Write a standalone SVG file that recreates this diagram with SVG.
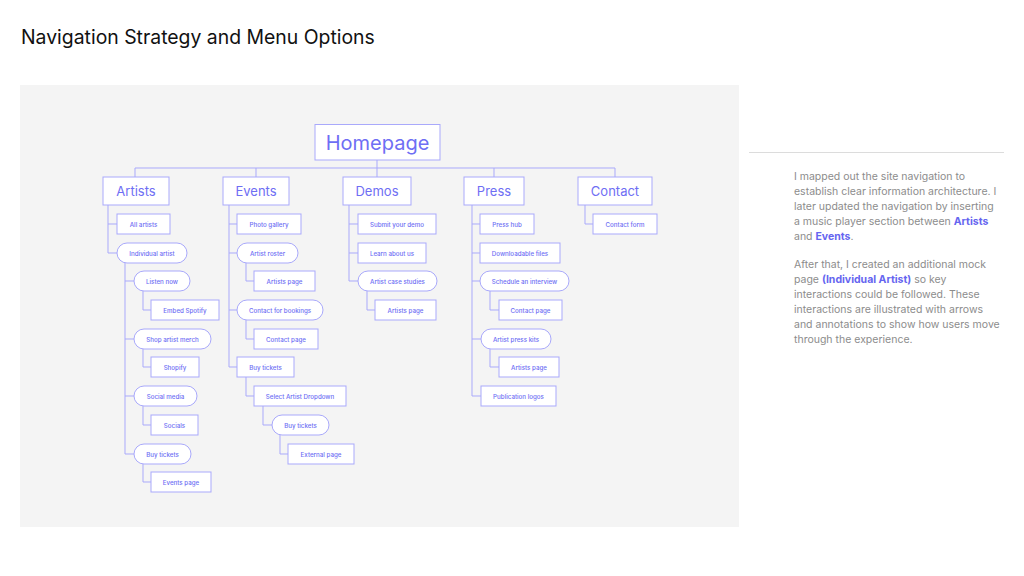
<svg xmlns="http://www.w3.org/2000/svg" width="1024" height="576" viewBox="0 0 1024 576">
<style>
.n rect{fill:#fff;stroke:#a9a9fb;stroke-width:1}
.n text{font-family:Inter,"Noto Sans",sans-serif;fill:#6e6ef4;text-anchor:middle;dominant-baseline:central}
.s text{font-size:6.2px;font-weight:500}
.t text{font-size:13px}
#conn path{fill:none;stroke:#a9a9fb;stroke-width:1}
.p{font-family:Inter,"Noto Sans",sans-serif;font-size:10.5px;fill:#8c8c8c}
.b{fill:#6565f0;font-weight:700}
</style>
<rect x="0" y="0" width="1024" height="576" fill="#fff"/>
<text x="21" y="44" font-family="Inter,'Noto Sans',sans-serif" font-size="19.4" fill="#111">Navigation Strategy and Menu Options</text>
<rect x="20" y="85" width="719" height="442" fill="#f4f4f4"/>

<g id="conn">
<path d="M377 160V177M135 168H615M135 168V177M256 168V177M494 168V177M615 168V177"/>
<path d="M108 205V253M108 224H117M108 253H117"/>
<path d="M125 263V454M125 281H134M125 339H134M125 396H134M125 454H134"/>
<path d="M143 291V310H151M143 349V367H151M143 406V425H151M143 464V482H151"/>
<path d="M229 205V367M229 224H237M229 253H237M229 310H237M229 367H237"/>
<path d="M246 263V281H254M246 320V339H254M246 377V396H254M263 406V425H272M280 435V454H288"/>
<path d="M349 205V281M349 224H358M349 253H358M349 281H358M367 291V310H375"/>
<path d="M472 205V396M472 224H480M472 253H480M472 281H480M472 339H481M472 396H481M490 291V310H499M490 349V367H499"/>
<path d="M585 205V224H593"/>
</g>

<g id="homepage" class="n"><rect x="315" y="124.5" width="125" height="35.5"/><text x="377.5" y="142.5" font-size="20">Homepage</text></g>
<g id="artists" class="n t"><rect x="103" y="177" width="66" height="28"/><text x="136" y="191">Artists</text></g>
<g id="events" class="n t"><rect x="223" y="177" width="66" height="28"/><text x="256" y="191">Events</text></g>
<g id="demos" class="n t"><rect x="343" y="177" width="68" height="28"/><text x="377" y="191">Demos</text></g>
<g id="press" class="n t"><rect x="464" y="177" width="60" height="28"/><text x="494" y="191">Press</text></g>
<g id="contact" class="n t"><rect x="578" y="177" width="74" height="28"/><text x="615" y="191">Contact</text></g>

<g id="all-artists" class="n s"><rect x="117" y="214" width="53" height="20"/><text x="143.5" y="224">All artists</text></g>
<g id="individual-artist" class="n s"><rect x="117" y="243" width="70" height="20" rx="10"/><text x="152" y="253">Individual artist</text></g>
<g id="listen-now" class="n s"><rect x="134" y="271" width="56" height="20" rx="10"/><text x="162" y="281">Listen now</text></g>
<g id="embed-spotify" class="n s"><rect x="151" y="300" width="68" height="20"/><text x="185" y="310">Embed Spotify</text></g>
<g id="shop-merch" class="n s"><rect x="134" y="329" width="77" height="20" rx="10"/><text x="172.5" y="339">Shop artist merch</text></g>
<g id="shopify" class="n s"><rect x="151" y="357" width="48" height="20"/><text x="175" y="367">Shopify</text></g>
<g id="social-media" class="n s"><rect x="134" y="386" width="63" height="20" rx="10"/><text x="165.5" y="396">Social media</text></g>
<g id="socials" class="n s"><rect x="151" y="415" width="47" height="20"/><text x="174.5" y="425">Socials</text></g>
<g id="artist-buy-tickets" class="n s"><rect x="134" y="444" width="57" height="20" rx="10"/><text x="162.5" y="454">Buy tickets</text></g>
<g id="events-page" class="n s"><rect x="151" y="472" width="60" height="20"/><text x="181" y="482">Events page</text></g>

<g id="photo-gallery" class="n s"><rect x="237" y="214" width="64" height="20"/><text x="269" y="224">Photo gallery</text></g>
<g id="artist-roster" class="n s"><rect x="237" y="243" width="61" height="20" rx="10"/><text x="267.5" y="253">Artist roster</text></g>
<g id="events-artists-page" class="n s"><rect x="254" y="271" width="61" height="20"/><text x="284.5" y="281">Artists page</text></g>
<g id="contact-bookings" class="n s"><rect x="237" y="300" width="86" height="20" rx="10"/><text x="280" y="310">Contact for bookings</text></g>
<g id="events-contact-page" class="n s"><rect x="254" y="329" width="64" height="20"/><text x="286" y="339">Contact page</text></g>
<g id="events-buy-tickets" class="n s"><rect x="237" y="357" width="57" height="20"/><text x="265.5" y="367">Buy tickets</text></g>
<g id="select-artist" class="n s"><rect x="254" y="386" width="92" height="20"/><text x="300" y="396">Select Artist Dropdown</text></g>
<g id="dropdown-buy-tickets" class="n s"><rect x="272" y="415" width="57" height="20" rx="10"/><text x="300.5" y="425">Buy tickets</text></g>
<g id="external-page" class="n s"><rect x="288" y="444" width="66" height="20"/><text x="321" y="454">External page</text></g>

<g id="submit-demo" class="n s"><rect x="358" y="214" width="78" height="20"/><text x="397" y="224">Submit your demo</text></g>
<g id="learn-about" class="n s"><rect x="358" y="243" width="68" height="20"/><text x="392" y="253">Learn about us</text></g>
<g id="case-studies" class="n s"><rect x="358" y="271" width="79" height="20" rx="10"/><text x="397.5" y="281">Artist case studies</text></g>
<g id="demos-artists-page" class="n s"><rect x="375" y="300" width="61" height="20"/><text x="405.5" y="310">Artists page</text></g>

<g id="press-hub" class="n s"><rect x="480" y="214" width="54" height="20"/><text x="507" y="224">Press hub</text></g>
<g id="downloadable" class="n s"><rect x="480" y="243" width="80" height="20"/><text x="520" y="253">Downloadable files</text></g>
<g id="schedule-interview" class="n s"><rect x="480" y="271" width="89" height="20" rx="10"/><text x="524.5" y="281">Schedule an interview</text></g>
<g id="press-contact-page" class="n s"><rect x="499" y="300" width="63" height="20"/><text x="530.5" y="310">Contact page</text></g>
<g id="press-kits" class="n s"><rect x="481" y="329" width="70" height="20" rx="10"/><text x="516" y="339">Artist press kits</text></g>
<g id="press-artists-page" class="n s"><rect x="499" y="357" width="60" height="20"/><text x="529" y="367">Artists page</text></g>
<g id="publication-logos" class="n s"><rect x="481" y="386" width="75" height="20"/><text x="518.5" y="396">Publication logos</text></g>

<g id="contact-form" class="n s"><rect x="593" y="214" width="64" height="20"/><text x="625" y="224">Contact form</text></g>

<line x1="749" y1="152.5" x2="1004" y2="152.5" stroke="#dcdcdc" stroke-width="1"/>
<text class="p">
<tspan x="794" y="180">I mapped out the site navigation to</tspan>
<tspan x="794" y="195">establish clear information architecture. I</tspan>
<tspan x="794" y="210">later updated the navigation by inserting</tspan>
<tspan x="794" y="225">a music player section between <tspan class="b">Artists</tspan></tspan>
<tspan x="794" y="240">and <tspan class="b">Events</tspan>.</tspan>
<tspan x="794" y="268">After that, I created an additional mock</tspan>
<tspan x="794" y="283">page <tspan class="b">(Individual Artist)</tspan> so key</tspan>
<tspan x="794" y="298">interactions could be followed. These</tspan>
<tspan x="794" y="313">interactions are illustrated with arrows</tspan>
<tspan x="794" y="328">and annotations to show how users move</tspan>
<tspan x="794" y="343">through the experience.</tspan>
</text>
</svg>
